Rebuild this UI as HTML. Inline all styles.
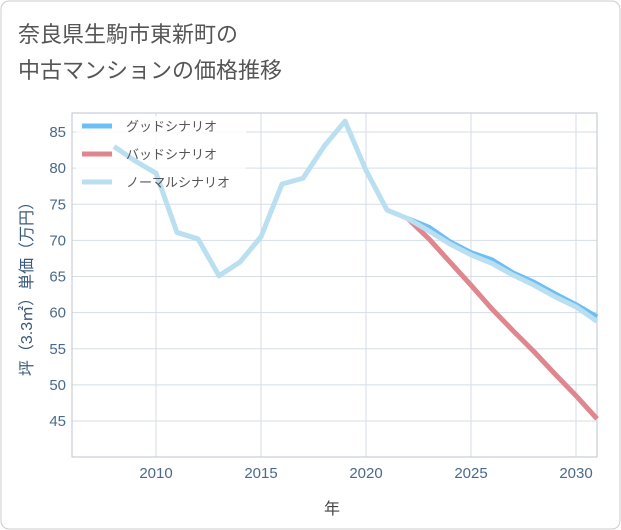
<!DOCTYPE html>
<html><head><meta charset="utf-8"><style>
body{margin:0;background:#fff;}
svg{display:block;font-family:"Liberation Sans","Noto Sans CJK JP",sans-serif;}
</style></head><body>
<svg width="621" height="530">
<rect x="1" y="1" width="619" height="528" rx="8" fill="#fff" stroke="#ccc"/>
<text x="18" y="42" font-size="22" fill="#555">奈良県生駒市東新町の</text>
<text x="18" y="78" font-size="22" fill="#555">中古マンションの価格推移</text>
<g id="grid"></g>
<rect x="72" y="113" width="525" height="344" fill="none" stroke="#bcc6d0" stroke-width="1"/>
<rect x="76" y="116" width="170" height="84" fill="rgba(255,255,255,0.8)"/>
<g id="series"></g>
<g id="axes"></g>
<text x="332" y="514" font-size="16" fill="#444" text-anchor="middle">年</text>
<text transform="translate(32,285) rotate(-90)" font-size="16" fill="#3a5a7a" text-anchor="middle">坪（3.3㎡）単価（万円）</text>
<g>
<line x1="82" y1="126" x2="112" y2="126" stroke="#6cbff5" stroke-width="5"/>
<text x="126" y="131" font-size="13" fill="#555">グッドシナリオ</text>
<line x1="82" y1="154" x2="112" y2="154" stroke="#e0868e" stroke-width="5"/>
<text x="126" y="159" font-size="13" fill="#555">バッドシナリオ</text>
<line x1="82" y1="182" x2="112" y2="182" stroke="#b9dff0" stroke-width="5"/>
<text x="126" y="187" font-size="13" fill="#555">ノーマルシナリオ</text>
</g>
</svg>
<script>
const normalYears=[2008,2009,2010,2011,2012,2013,2014,2015,2016,2017,2018,2019,2020,2021,2022,2023,2024,2025,2026,2027,2028,2029,2030,2031];
const normalVals=[83,81,79.3,71.1,70.2,65.1,67,70.5,77.8,78.6,83,86.5,79.7,74.2,73,71.3,69.5,68,66.8,65.2,63.8,62.2,60.8,58.8];
const futureYears=[2022,2023,2024,2025,2026,2027,2028,2029,2030,2031];
const goodVals=[73,71.8,69.8,68.3,67.3,65.5,64.2,62.6,61.1,59.4];
const badVals=[73,70.2,67,63.8,60.5,57.5,54.6,51.5,48.5,45.3];
const xTicks=[2010,2015,2020,2025,2030];
const yTicks=[45,50,55,60,65,70,75,80,85];
const NS='http://www.w3.org/2000/svg';
const X=y=>72+(y-2006)*21;
const Y=v=>132+(85-v)*7.225;
const grid=document.getElementById('grid'),axes=document.getElementById('axes'),ser=document.getElementById('series');
function mk(tag,attrs,parent){const e=document.createElementNS(NS,tag);for(const k in attrs)e.setAttribute(k,attrs[k]);parent.appendChild(e);return e;}
xTicks.forEach(t=>{
 const l=mk('line',{x1:X(t),x2:X(t),y1:113,y2:457,stroke:'#d5dde5'},grid);
 
 
 const tx=mk('text',{x:X(t),y:478,'font-size':15,fill:'#4a6a8a','text-anchor':'middle'},axes);tx.textContent=t;
 
 
});
yTicks.forEach(t=>{
 const l=mk('line',{x1:72,x2:597,y1:Y(t),y2:Y(t),stroke:'#d5dde5'},grid);
 
 
 const tx=mk('text',{x:66,y:Y(t)+5,'font-size':15,fill:'#4a6a8a','text-anchor':'end'},axes);tx.textContent=t;
 
 
});
function line(xs,vs,color,name){
 const p=mk('polyline',{points:xs.map((x,i)=>X(x)+','+Y(vs[i])).join(' '),fill:'none',stroke:color,'stroke-width':5,'stroke-linejoin':'round'},ser);
 
 
}
line(futureYears,badVals,'#e0868e','bad-scenario-line');
line(futureYears,goodVals,'#6cbff5','good-scenario-line');
line(normalYears,normalVals,'#b9dff0','normal-scenario-line');
</script>
</body></html>
